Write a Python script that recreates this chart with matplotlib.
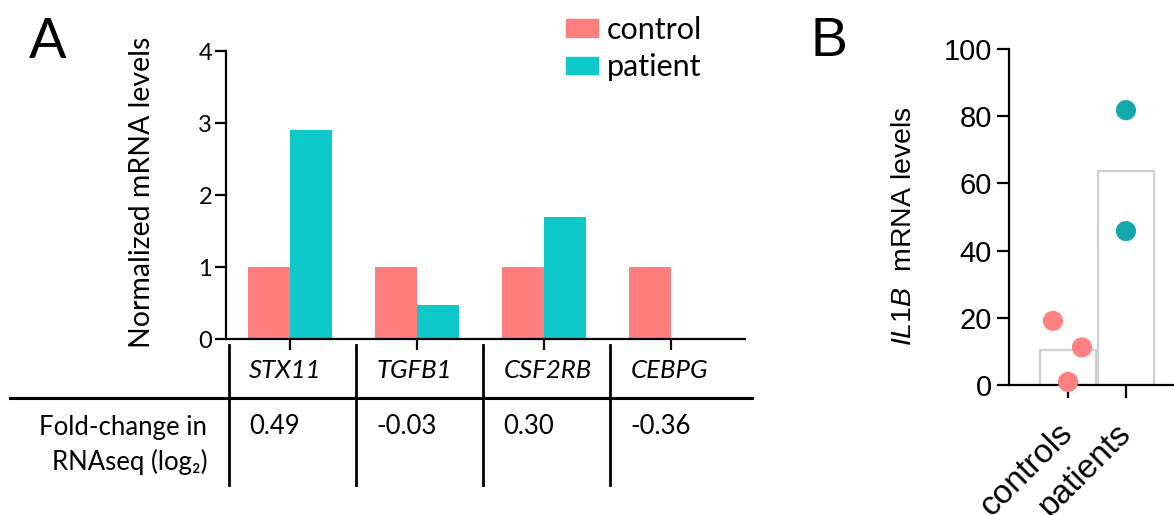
import numpy as np
import matplotlib
matplotlib.use("Agg")
import matplotlib.pyplot as plt
import matplotlib.transforms as mtransforms
from matplotlib.patches import Patch

# ---- data ----
genes = ["STX11", "TGFB1", "CSF2RB", "CEBPG"]
control_levels = [1.0, 1.0, 1.0, 1.0]
patient_levels = [2.9, 0.47, 1.7, 0.0]
fold_change = ["0.49", "-0.03", "0.30", "-0.36"]

groups_b = ["controls", "patients"]
il1b_controls = [19.1, 11.2, 0.9]
il1b_patients = [81.8, 45.8]
jitter_controls = [-0.26, 0.24, 0.0]
jitter_patients = [0.0, 0.0]

C_CTRL = "#FF7F7F"
C_PAT = "#0DC9C9"
C_PAT_DOT = "#14A8AD"

W, H = 1174, 515
fig = plt.figure(figsize=(W / 100, H / 100), dpi=100)

FONT_A = ["Lato", "DejaVu Sans"]
FONT_B = ["Liberation Sans", "DejaVu Sans"]
plt.rcParams["mathtext.fontset"] = "custom"
plt.rcParams["mathtext.it"] = "Liberation Sans:italic"
plt.rcParams["mathtext.rm"] = "Liberation Sans"


def rect(left, right, top, bottom):
    return [left / W, (H - bottom) / H, (right - left) / W, (bottom - top) / H]


def fy(ypx):
    return (H - ypx) / H


# ---- panel A: grouped bars ----
axA = fig.add_axes(rect(226, 745, 51, 339))
x = np.arange(len(genes))
bw = 0.33
axA.bar(x - bw / 2, control_levels, bw, color=C_CTRL, label="control")
axA.bar(x + bw / 2, patient_levels, bw, color=C_PAT, label="patient")
axA.set_xlim(-0.5, 3.58)
axA.set_ylim(0, 4)
axA.set_yticks([0, 1, 2, 3, 4])
axA.set_xticks(x)
axA.set_xticklabels([])
for s in ["top", "right"]:
    axA.spines[s].set_visible(False)
for s in ["left", "bottom"]:
    axA.spines[s].set_linewidth(1.6)
axA.tick_params(axis="both", width=1.6, length=8, labelsize=17)
for lab in axA.get_yticklabels():
    lab.set_family(FONT_A)
axA.tick_params(axis="y", pad=2)
axA.set_ylabel("Normalized mRNA levels", family=FONT_A, fontsize=20.5)
axA.yaxis.set_label_coords(155 / W, fy(192), transform=fig.transFigure)

fig.text(48 / W, fy(42), "A", family=FONT_A, fontsize=40, ha="center", va="center")

leg = axA.legend(handles=[Patch(color=C_CTRL, label="control"),
                          Patch(color=C_PAT, label="patient")],
                 loc="upper left", bbox_to_anchor=(566 / W, fy(16)),
                 bbox_transform=fig.transFigure, frameon=False,
                 prop={"family": FONT_A, "size": 22},
                 handlelength=1.05, handleheight=0.5, handletextpad=0.3,
                 labelspacing=0.3, borderpad=0, borderaxespad=0)

# ---- table under panel A ----
blend = mtransforms.blended_transform_factory(axA.transData, fig.transFigure)
for i in range(len(genes)):
    axA.plot([i - 0.48, i - 0.48], [fy(345), fy(485)], color="black", lw=2,
             transform=blend, clip_on=False)
axA.plot([10 / W, 752 / W], [fy(398), fy(398)], color="black", lw=2.2,
         transform=fig.transFigure, clip_on=False)
for i, (g, fc) in enumerate(zip(genes, fold_change)):
    axA.text(i - 0.32, fy(371), g, style="italic", family=FONT_A, fontsize=18.5,
             ha="left", va="center", transform=blend)
    axA.text(i - 0.32, fy(427), fc, family=FONT_A, fontsize=18.5,
             ha="left", va="center", transform=blend)
fig.text(207 / W, fy(427), "Fold-change in", family=FONT_A, fontsize=18.5,
         ha="right", va="center")
fig.text(207 / W, fy(462), "RNAseq (log\u2082)", family=FONT_A, fontsize=18.5,
         ha="right", va="center")

# ---- panel B: mean bars with individual points ----
axB = fig.add_axes(rect(1009, 1174, 49, 385))
means = [np.mean(il1b_controls), np.mean(il1b_patients)]
axB.bar([0, 1], means, 0.97, facecolor="white", edgecolor="#D0D0D0", lw=1.6,
        zorder=1)
axB.scatter(np.array(jitter_controls), il1b_controls, s=210, color="#FF8080",
            edgecolor="none", zorder=3, clip_on=False)
axB.scatter(1 + np.array(jitter_patients), il1b_patients, s=210, color=C_PAT_DOT,
            edgecolor="none", zorder=3, clip_on=False)
axB.set_xlim(-1.02, 1.83)
axB.set_ylim(0, 100)
axB.set_yticks([0, 20, 40, 60, 80, 100])
axB.set_xticks([0, 1])
axB.set_xticklabels(groups_b, rotation=45, ha="right", va="center",
                    rotation_mode="anchor")
for s in ["top", "right"]:
    axB.spines[s].set_visible(False)
for s in ["left", "bottom"]:
    axB.spines[s].set_linewidth(1.6)
axB.tick_params(axis="both", width=1.6, length=9)
axB.tick_params(axis="y", labelsize=21)
axB.tick_params(axis="x", labelsize=24, pad=22)
for lab in axB.get_yticklabels() + axB.get_xticklabels():
    lab.set_family(FONT_B)
axB.set_ylabel(r"$\mathit{IL1B}$  mRNA levels", family=FONT_B, fontsize=20.5)
axB.yaxis.set_label_coords(917 / W, fy(226), transform=fig.transFigure)

fig.text(829 / W, fy(42), "B", family=FONT_B, fontsize=40, ha="center", va="center")

fig.savefig("out.png", dpi=100)
